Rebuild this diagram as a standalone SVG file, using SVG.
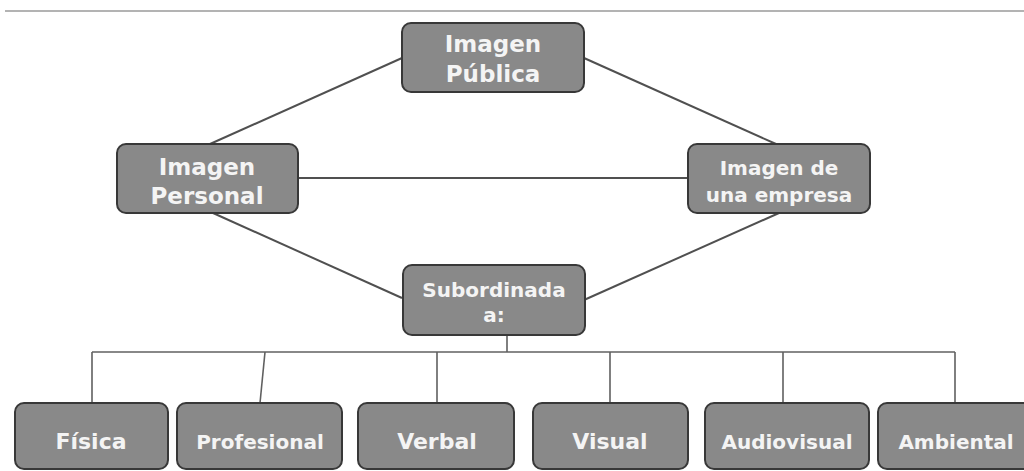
<svg xmlns="http://www.w3.org/2000/svg" width="1024" height="471" viewBox="0 0 1024 471">
<style>
.box{fill:#898989;stroke:#383838;stroke-width:2}
.t{font-family:"DejaVu Sans","Liberation Sans",sans-serif;font-weight:bold;fill:#f4f4f4;text-anchor:middle}
.l{stroke:#505050;stroke-width:2;fill:none}
.b{stroke:#606060;stroke-width:1.6;fill:none}
</style>
<rect x="0" y="0" width="1024" height="471" fill="#ffffff"/>
<line x1="5" y1="11" x2="1024" y2="11" stroke="#9a9a9a" stroke-width="1.5"/>
<g id="connectors">
<path class="l" d="M402,58 L210,144"/>
<path class="l" d="M584,58 L776,144"/>
<path class="l" d="M298,178 L688,178"/>
<path class="l" d="M213,213 L402,298"/>
<path class="l" d="M779,213 L584,300"/>
<path class="b" d="M507,335 V352"/>
<path class="b" d="M92,352 H955"/>
<path class="b" d="M92,352 V403"/>
<path class="b" d="M265,352 L260,403"/>
<path class="b" d="M437,352 V403"/>
<path class="b" d="M610,352 V403"/>
<path class="b" d="M783,352 V403"/>
<path class="b" d="M955,352 V403"/>
</g>
<g id="imagen-publica">
<rect class="box" x="402" y="23" width="182" height="69" rx="9"/>
<text class="t" x="493" y="52" font-size="23">Imagen</text>
<text class="t" x="493" y="82" font-size="23">Pública</text>
</g>
<g id="imagen-personal">
<rect class="box" x="117" y="144" width="181" height="69" rx="9"/>
<text class="t" x="207" y="175" font-size="23">Imagen</text>
<text class="t" x="207" y="204" font-size="23">Personal</text>
</g>
<g id="imagen-empresa">
<rect class="box" x="688" y="144" width="182" height="69" rx="9"/>
<text class="t" x="779" y="175" font-size="20">Imagen de</text>
<text class="t" x="779" y="202" font-size="20">una empresa</text>
</g>
<g id="subordinada">
<rect class="box" x="403" y="265" width="182" height="70" rx="9"/>
<text class="t" x="494" y="297" font-size="20">Subordinada</text>
<text class="t" x="494" y="322" font-size="20">a:</text>
</g>
<g id="fisica">
<rect class="box" x="15" y="403" width="153" height="66" rx="9"/>
<text class="t" x="91" y="449" font-size="22">Física</text>
</g>
<g id="profesional">
<rect class="box" x="177" y="403" width="165" height="66" rx="9"/>
<text class="t" x="260" y="449" font-size="20">Profesional</text>
</g>
<g id="verbal">
<rect class="box" x="358" y="403" width="156" height="66" rx="9"/>
<text class="t" x="437" y="449" font-size="22">Verbal</text>
</g>
<g id="visual">
<rect class="box" x="533" y="403" width="155" height="66" rx="9"/>
<text class="t" x="610" y="449" font-size="22">Visual</text>
</g>
<g id="audiovisual">
<rect class="box" x="705" y="403" width="164" height="66" rx="9"/>
<text class="t" x="787" y="449" font-size="20">Audiovisual</text>
</g>
<g id="ambiental">
<rect class="box" x="878" y="403" width="160" height="66" rx="9"/>
<text class="t" x="956" y="449" font-size="20">Ambiental</text>
</g>
</svg>
